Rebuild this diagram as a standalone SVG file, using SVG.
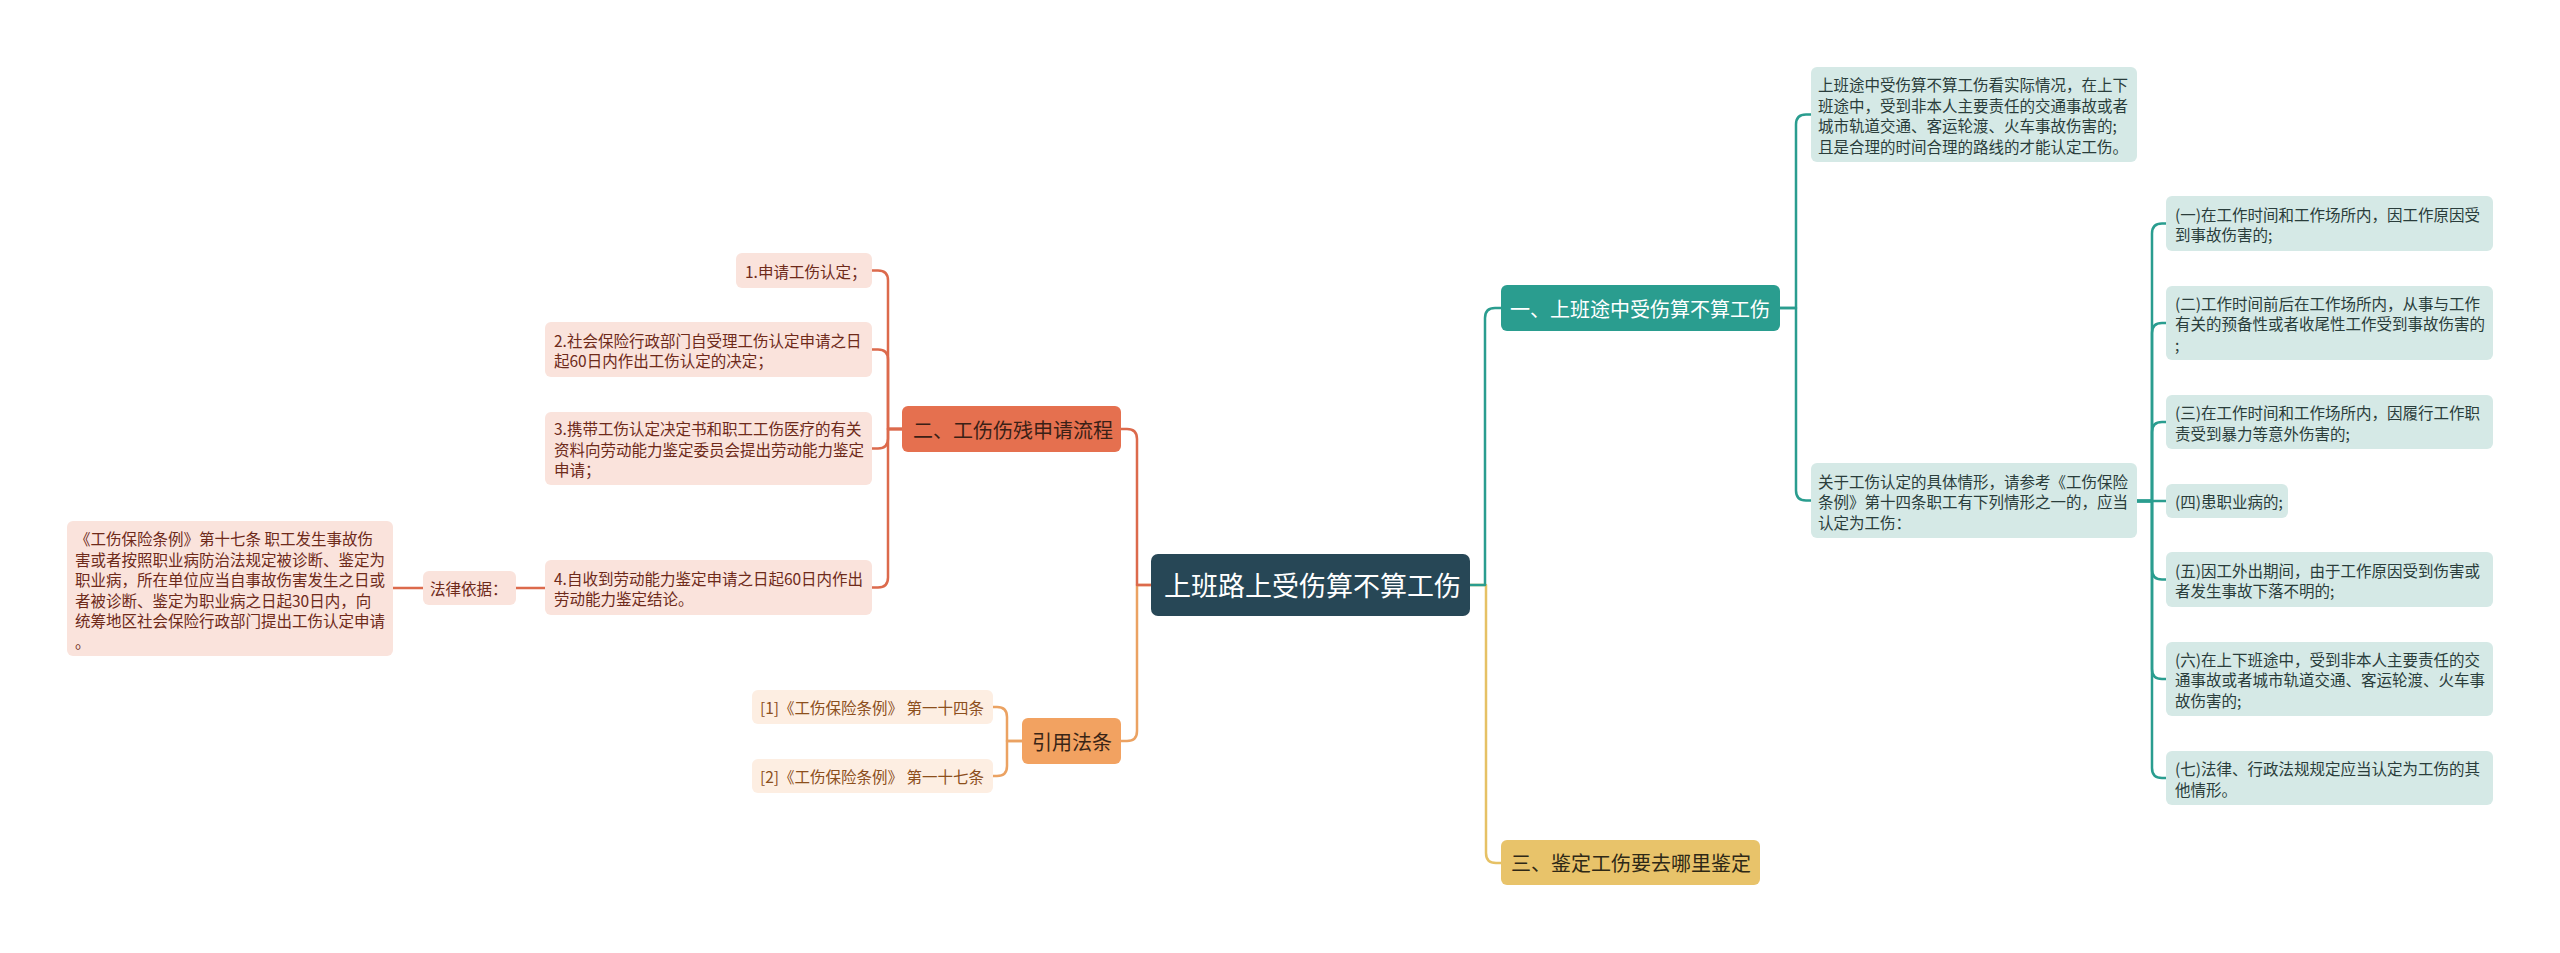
<svg xmlns="http://www.w3.org/2000/svg" width="2560" height="953" viewBox="0 0 2560 953">
<style>
text{font-family:"Noto Sans CJK SC","Noto Sans",sans-serif;}
.c{fill:none;stroke-width:2.5;stroke-linecap:round;stroke-linejoin:round}
.ct{stroke:#2a9d8f}.cr{stroke:#dc6a4c}.co{stroke:#eba262}.cy{stroke:#e6c165}
.leafT rect{fill:#d5e9e6}.leafT text{fill:#2a3d3b;font-size:15.5px}
.leafR rect{fill:#fae3dc}.leafR text{fill:#6e2a1a;font-size:15.5px}
.leafO rect{fill:#fdeee2}.leafO text{fill:#8c4f1c;font-size:15.5px}
.main text{font-size:20px}
</style>
<rect width="2560" height="953" fill="#ffffff"/>
<g id="connectors">
<path class="c cy" d="M1470,585 H1486 V853 Q1486,863 1496,863 H1501"/>
<path class="c ct" d="M1470,585 H1485 V318 Q1485,308 1495,308 H1501"/>
<path class="c co" d="M1151,585 H1137 V731 Q1137,741 1127,741 H1121"/>
<path class="c cr" d="M1151,585 H1137 V439 Q1137,429 1127,429 H1121"/>
<path class="c ct" d="M1780,308 H1796 V124.5 Q1796,114.5 1806,114.5 H1811"/>
<path class="c ct" d="M1780,308 H1796 V490.5 Q1796,500.5 1806,500.5 H1811"/>
<path class="c ct" d="M2137,501 H2152 V233.5 Q2152,223.5 2162,223.5 H2166"/>
<path class="c ct" d="M2137,501 H2152 V333 Q2152,323 2162,323 H2166"/>
<path class="c ct" d="M2137,501 H2152 V432 Q2152,422 2162,422 H2166"/>
<path class="c ct" d="M2137,501 H2166"/>
<path class="c ct" d="M2137,501 H2152 V569.5 Q2152,579.5 2162,579.5 H2166"/>
<path class="c ct" d="M2137,501 H2152 V669 Q2152,679 2162,679 H2166"/>
<path class="c ct" d="M2137,501 H2152 V768 Q2152,778 2162,778 H2166"/>
<path class="c cr" d="M902,429 H888 V280.5 Q888,270.5 878,270.5 H872"/>
<path class="c cr" d="M902,429 H888 V359.5 Q888,349.5 878,349.5 H872"/>
<path class="c cr" d="M902,429 H888 V438.5 Q888,448.5 878,448.5 H872"/>
<path class="c cr" d="M902,429 H888 V577.5 Q888,587.5 878,587.5 H872"/>
<path class="c cr" d="M545,588 H516"/>
<path class="c cr" d="M423,588 H393"/>
<path class="c co" d="M1022,741 H1007 V717 Q1007,707 997,707 H993"/>
<path class="c co" d="M1022,741 H1007 V766 Q1007,776 997,776 H993"/>
</g>
<g id="center">
<rect x="1151" y="554" width="319" height="62" rx="7" fill="#274756"/>
<text x="1164" y="596" font-size="27" fill="#ffffff">上班路上受伤算不算工伤</text>
</g>
<g id="branch1" class="main">
<rect x="1501" y="285" width="279" height="46" rx="6" fill="#2a9d8f"/>
<text x="1510" y="316.5" fill="#ffffff">一、上班途中受伤算不算工伤</text>
</g>
<g id="branch2" class="main">
<rect x="902" y="406" width="219" height="46" rx="6" fill="#e5704f"/>
<text x="913" y="437.5" fill="#3a2016">二、工伤伤残申请流程</text>
</g>
<g id="branch-cite" class="main">
<rect x="1022" y="718" width="99" height="46" rx="6" fill="#f2a261"/>
<text x="1032" y="749.5" fill="#3a2516">引用法条</text>
</g>
<g id="branch3" class="main">
<rect x="1501" y="840" width="259" height="45" rx="6" fill="#e8c36a"/>
<text x="1511" y="871" fill="#2e2816">三、鉴定工伤要去哪里鉴定</text>
</g>
<g id="r-top" class="leafT">
<rect x="1811" y="67" width="326" height="95" rx="6"/>
<text x="1818"><tspan x="1818" y="91">上班途中受伤算不算工伤看实际情况，在上下</tspan><tspan x="1818" y="111.5">班途中，受到非本人主要责任的交通事故或者</tspan><tspan x="1818" y="132">城市轨道交通、客运轮渡、火车事故伤害的;</tspan><tspan x="1818" y="152.5">且是合理的时间合理的路线的才能认定工伤。</tspan></text>
</g>
<g id="r-about" class="leafT">
<rect x="1811" y="463" width="326" height="75" rx="6"/>
<text><tspan x="1818" y="487.5">关于工伤认定的具体情形，请参考《工伤保险</tspan><tspan x="1818" y="508">条例》第十四条职工有下列情形之一的，应当</tspan><tspan x="1818" y="528.5">认定为工伤：</tspan></text>
</g>
<g id="r1" class="leafT">
<rect x="2166" y="196" width="327" height="55" rx="6"/>
<text><tspan x="2175" y="220.5">(一)在工作时间和工作场所内，因工作原因受</tspan><tspan x="2175" y="241">到事故伤害的;</tspan></text>
</g>
<g id="r2" class="leafT">
<rect x="2166" y="286" width="327" height="74" rx="6"/>
<text><tspan x="2175" y="309.5">(二)工作时间前后在工作场所内，从事与工作</tspan><tspan x="2175" y="330">有关的预备性或者收尾性工作受到事故伤害的</tspan><tspan x="2175" y="350.5">;</tspan></text>
</g>
<g id="r3" class="leafT">
<rect x="2166" y="395" width="327" height="54" rx="6"/>
<text><tspan x="2175" y="419">(三)在工作时间和工作场所内，因履行工作职</tspan><tspan x="2175" y="439.5">责受到暴力等意外伤害的;</tspan></text>
</g>
<g id="r4" class="leafT">
<rect x="2166" y="484" width="122" height="34" rx="6"/>
<text x="2175" y="508">(四)患职业病的;</text>
</g>
<g id="r5" class="leafT">
<rect x="2166" y="552" width="327" height="55" rx="6"/>
<text><tspan x="2175" y="576.5">(五)因工外出期间，由于工作原因受到伤害或</tspan><tspan x="2175" y="597">者发生事故下落不明的;</tspan></text>
</g>
<g id="r6" class="leafT">
<rect x="2166" y="642" width="327" height="74" rx="6"/>
<text><tspan x="2175" y="665.5">(六)在上下班途中，受到非本人主要责任的交</tspan><tspan x="2175" y="686">通事故或者城市轨道交通、客运轮渡、火车事</tspan><tspan x="2175" y="706.5">故伤害的;</tspan></text>
</g>
<g id="r7" class="leafT">
<rect x="2166" y="751" width="327" height="54" rx="6"/>
<text><tspan x="2175" y="775">(七)法律、行政法规规定应当认定为工伤的其</tspan><tspan x="2175" y="795.5">他情形。</tspan></text>
</g>
<g id="l1" class="leafR">
<rect x="736" y="253" width="136" height="35" rx="6"/>
<text x="745" y="277.5">1.申请工伤认定；</text>
</g>
<g id="l2" class="leafR">
<rect x="545" y="322" width="327" height="55" rx="6"/>
<text><tspan x="554" y="346.5">2.社会保险行政部门自受理工伤认定申请之日</tspan><tspan x="554" y="367">起60日内作出工伤认定的决定；</tspan></text>
</g>
<g id="l3" class="leafR">
<rect x="545" y="412" width="327" height="73" rx="6"/>
<text><tspan x="554" y="435">3.携带工伤认定决定书和职工工伤医疗的有关</tspan><tspan x="554" y="455.5">资料向劳动能力鉴定委员会提出劳动能力鉴定</tspan><tspan x="554" y="476">申请；</tspan></text>
</g>
<g id="l4" class="leafR">
<rect x="545" y="560" width="327" height="55" rx="6"/>
<text><tspan x="554" y="584.5">4.自收到劳动能力鉴定申请之日起60日内作出</tspan><tspan x="554" y="605">劳动能力鉴定结论。</tspan></text>
</g>
<g id="l-basis" class="leafR">
<rect x="423" y="571" width="93" height="34" rx="6"/>
<text x="430" y="595">法律依据：</text>
</g>
<g id="l-law" class="leafR">
<rect x="67" y="521" width="326" height="135" rx="6"/>
<text><tspan x="75" y="545">《工伤保险条例》第十七条 职工发生事故伤</tspan><tspan x="75" y="565.5">害或者按照职业病防治法规定被诊断、鉴定为</tspan><tspan x="75" y="586">职业病，所在单位应当自事故伤害发生之日或</tspan><tspan x="75" y="606.5">者被诊断、鉴定为职业病之日起30日内，向</tspan><tspan x="75" y="627">统筹地区社会保险行政部门提出工伤认定申请</tspan><tspan x="75" y="647.5">。</tspan></text>
</g>
<g id="cite1" class="leafO">
<rect x="752" y="690" width="241" height="34" rx="6"/>
<text x="760" y="714">[1]《工伤保险条例》 第一十四条</text>
</g>
<g id="cite2" class="leafO">
<rect x="752" y="759" width="241" height="34" rx="6"/>
<text x="760" y="783">[2]《工伤保险条例》 第一十七条</text>
</g>
</svg>
